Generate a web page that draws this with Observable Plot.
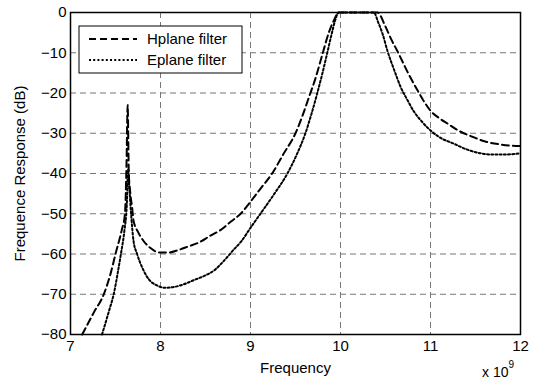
<!DOCTYPE html>
<html><head><meta charset="utf-8">
<script src="https://cdn.jsdelivr.net/npm/d3@7"></script>
<script src="https://cdn.jsdelivr.net/npm/@observablehq/plot@0.6"></script>
<style>body{margin:0;background:#fff}svg{background:#fff}</style>
</head><body><div id="chart"></div>
<script>
const xTicks = [7, 8, 9, 10, 11, 12];
const yTicks = [-80, -70, -60, -50, -40, -30, -20, -10, 0];
const seriesNames = ["Hplane filter", "Eplane filter"];

const hFreq = [7.13,7.26,7.37,7.45,7.5,7.57,7.605,7.622,7.635,7.648,7.665,7.685,7.7,7.75,7.81,7.9,7.98,8.1,8.2,8.3,8.44,8.55,8.67,8.78,8.89,9.0,9.11,9.24,9.37,9.5,9.58,9.65,9.72,9.8,9.87,9.93,9.98,10.41,10.5,10.56,10.63,10.75,10.86,11.0,11.1,11.19,11.3,11.48,11.6,11.78,11.9,12.0];
const hDb = [-80,-74.5,-70,-64.5,-60,-54,-50,-38,-23,-40,-45,-48.5,-51.7,-54.5,-56.7,-58.7,-59.6,-59.6,-59,-58.2,-57,-55.5,-54,-52,-50,-47,-43.8,-40,-35,-30,-25.5,-21,-16.5,-10.3,-5,-1.8,0,0,-3.5,-6.5,-9.5,-15,-19.5,-24.4,-26.3,-27.6,-29.2,-31,-32,-32.8,-33.1,-33.2];

const eFreq = [7.35,7.43,7.48,7.53,7.56,7.6,7.625,7.64,7.655,7.67,7.7,7.74,7.81,7.87,7.96,8.05,8.15,8.25,8.37,8.5,8.6,8.7,8.81,8.9,9.0,9.11,9.26,9.41,9.51,9.61,9.68,9.74,9.8,9.85,9.9,9.94,9.98,10.37,10.42,10.47,10.52,10.6,10.67,10.75,10.81,10.9,11.0,11.1,11.26,11.4,11.56,11.7,11.78,11.9,12.0];
const eDb = [-80,-74,-70,-64,-60,-54,-48,-39,-44,-49,-56.7,-60,-64,-66.3,-67.8,-68.4,-68.2,-67.6,-66.5,-65.3,-64,-61.8,-59,-56.8,-53.5,-50,-45.2,-40,-35.5,-30,-25,-20.2,-15,-10.3,-5.5,-2,0,0,-2.5,-5.5,-9.4,-14.5,-18.6,-22,-24.4,-27,-29.3,-31,-32.6,-34,-35,-35.3,-35.3,-35.2,-35];

const hData = hFreq.map((f, i) => ({f, db: hDb[i]}));
const eData = eFreq.map((f, i) => ({f, db: eDb[i]}));

const font = "'Liberation Sans', Arial, sans-serif";
const dashH = "7,4";
const dashE = "2,2.2";

const plot = Plot.plot({
  width: 533,
  height: 379,
  marginLeft: 70,
  marginRight: 13,
  marginTop: 12,
  marginBottom: 45,
  style: {fontFamily: font, fontSize: "15px", background: "#fff", color: "#000"},
  x: {domain: [7, 12]},
  y: {domain: [-80, 0]},
  marks: [
    Plot.ruleX(xTicks, {stroke: "#777", strokeDasharray: "6,4", strokeWidth: 1}),
    Plot.ruleY(yTicks, {stroke: "#777", strokeDasharray: "6,4", strokeWidth: 1}),
    Plot.axisX({ticks: xTicks, tickFormat: d3.format("d"), tickSize: 0, tickPadding: 6, fontSize: 15, label: "Frequency", labelAnchor: "center", labelOffset: 38, labelArrow: "none"}),
    Plot.axisY({ticks: yTicks, tickFormat: d3.format("d"), tickSize: 0, tickPadding: 4, fontSize: 15, label: "Frequence Response (dB)", labelAnchor: "center", labelOffset: 56, labelArrow: "none"}),
    Plot.line(hData, {x: "f", y: "db", stroke: "black", strokeWidth: 2, strokeDasharray: dashH, curve: "monotone-x"}),
    Plot.line(eData, {x: "f", y: "db", stroke: "black", strokeWidth: 2, strokeDasharray: dashE, curve: "monotone-x"}),
    Plot.frame({stroke: "black", strokeWidth: 1.5})
  ]
});
document.getElementById("chart").appendChild(plot);

const svg = d3.select(plot);
// legend
const lg = svg.append("g").attr("font-family", font).attr("font-size", 15).attr("text-anchor", "start");
lg.append("rect").attr("x", 79).attr("y", 26).attr("width", 163).attr("height", 47)
  .attr("fill", "#fff").attr("stroke", "#000").attr("stroke-width", 1);
seriesNames.forEach((name, i) => {
  const y = 39 + i * 21;
  lg.append("line").attr("x1", 89).attr("x2", 137).attr("y1", y).attr("y2", y)
    .attr("stroke", "#000").attr("stroke-width", 2)
    .attr("stroke-dasharray", i === 0 ? dashH : dashE);
  lg.append("text").attr("x", 147).attr("y", y).attr("dy", "0.35em").text(name);
});
// exponent
const ex = svg.append("text").attr("x", 482).attr("y", 377).attr("text-anchor", "start")
  .attr("font-family", font).attr("font-size", 14);
ex.append("tspan").text("x 10");
ex.append("tspan").attr("dy", -9).attr("font-size", 10).text("9");
</script>
</body></html>
